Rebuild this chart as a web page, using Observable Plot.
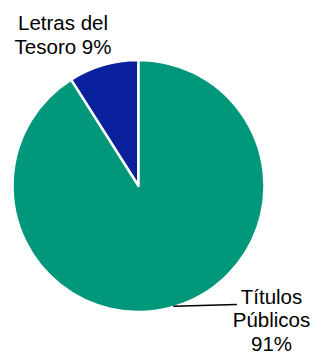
<!DOCTYPE html>
<html>
<head>
<meta charset="utf-8">
<script src="https://cdn.jsdelivr.net/npm/d3@7"></script>
<script src="https://cdn.jsdelivr.net/npm/@observablehq/plot@0.6"></script>
<style>
  html, body { margin: 0; padding: 0; background: #fff; }
  #chart svg { display: block; }
</style>
</head>
<body>
<div id="chart"></div>
<script>
// Data
const categories = ["Letras del Tesoro", "Títulos Públicos"];
const shares = [9, 91];
const labels = ["Letras del\nTesoro 9%", "Títulos\nPúblicos\n91%"];
const colors = ["#0a219d", "#00977a"];

const W = 312, H = 354;
const cxPx = 138.5, cyPx = 186, R = 126;

const total = d3.sum(shares);
const pieGen = d3.pie().sort(null).value(d => d.value)
  .startAngle(-2 * Math.PI * shares[0] / total)
  .endAngle(2 * Math.PI - 2 * Math.PI * shares[0] / total);
const table = categories.map((c, i) => ({name: c, value: shares[i], label: labels[i], color: colors[i]}));
const arcs = pieGen(table);

// leader line for the big slice: from arc mid-angle on the rim to the label
const big = arcs[1];
const mid = (big.startAngle + big.endAngle) / 2;
const leader = [
  {x: Math.sin(mid) * 0.99, y: Math.cos(mid) * 0.99},
  {x: 0.772, y: -0.936}
];

// label anchor points (unit-circle coordinates)
const labelPos = [
  {x: (62.5 - cxPx) / R, y: (cyPx - 12.5) / R},
  {x: (271 - cxPx) / R, y: (cyPx - 287) / R}
];
const textData = table.map((d, i) => ({...d, ...labelPos[i]}));

const pieMark = (index, scales) => {
  const cx = scales.x(0), cy = scales.y(0), r = scales.x(1) - cx;
  const g = d3.create("svg:g").attr("transform", `translate(${cx},${cy})`);
  const arc = d3.arc().innerRadius(0).outerRadius(r);
  g.selectAll("path").data(arcs).join("path")
    .attr("d", arc)
    .attr("fill", d => d.data.color)
    .attr("stroke", "#fff")
    .attr("stroke-width", 2.5)
    .attr("stroke-linejoin", "round");
  return g.node();
};

const plot = Plot.plot({
  width: W, height: H,
  margin: 0,
  x: {domain: [-cxPx / R, (W - cxPx) / R], axis: null},
  y: {domain: [-(H - cyPx) / R, cyPx / R], axis: null},
  style: {fontFamily: "'Liberation Sans', Arial, sans-serif", background: "#fff"},
  marks: [
    pieMark,
    Plot.line(leader, {x: "x", y: "y", stroke: "#000", strokeWidth: 1.5}),
    Plot.text([textData[0]], {x: "x", y: "y", text: "label", lineAnchor: "top", textAnchor: "middle", fontSize: 20.5, lineHeight: 1.18, fill: "#000"}),
    Plot.text([textData[1]], {x: "x", y: "y", text: "label", lineAnchor: "top", textAnchor: "middle", fontSize: 20.5, lineHeight: 1.14, fill: "#000"})
  ]
});
document.getElementById("chart").appendChild(plot);
</script>
</body>
</html>
